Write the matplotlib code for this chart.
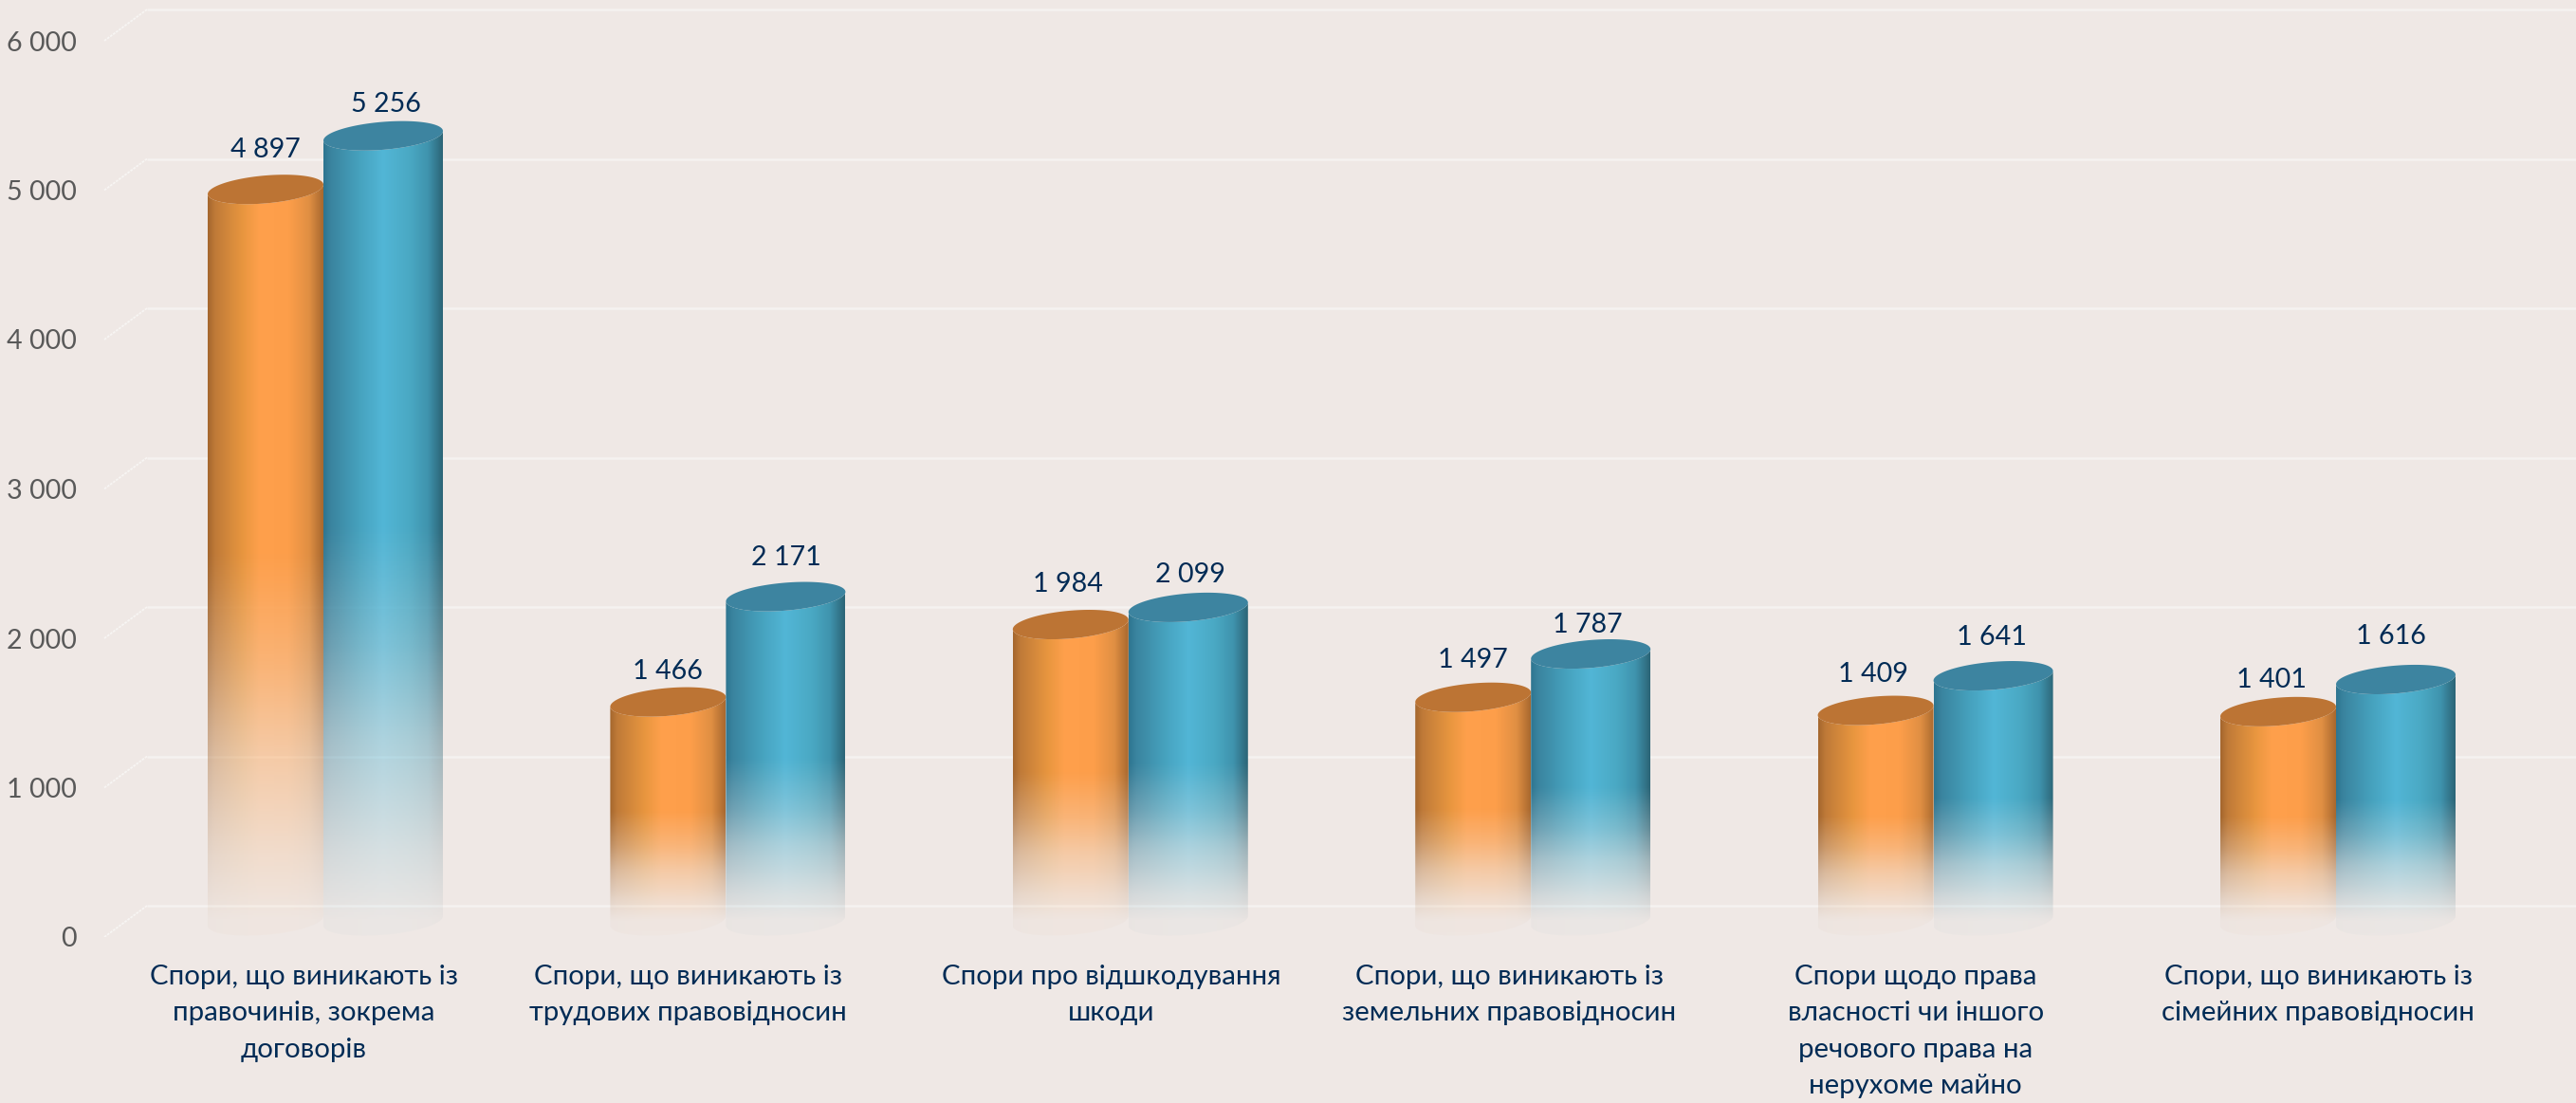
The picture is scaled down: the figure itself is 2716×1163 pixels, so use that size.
import numpy as np
import matplotlib
matplotlib.use("Agg")
import matplotlib.pyplot as plt
from matplotlib.path import Path
from matplotlib.patches import PathPatch
from matplotlib.colors import to_rgb

plt.rcParams['font.family'] = ['Lato', 'Open Sans', 'DejaVu Sans']

categories = [
    "Спори, що виникають із\nправочинів, зокрема\nдоговорів",
    "Спори, що виникають із\nтрудових правовідносин",
    "Спори про відшкодування\nшкоди",
    "Спори, що виникають із\nземельних правовідносин",
    "Спори щодо права\nвласності чи іншого\nречового права на\nнерухоме майно",
    "Спори, що виникають із\nсімейних правовідносин",
]
series_a = [4897, 1466, 1984, 1497, 1409, 1401]
series_b = [5256, 2171, 2099, 1787, 1641, 1616]
y_ticks = [0, 1000, 2000, 3000, 4000, 5000, 6000]

W, H = 2716, 1163
BG = "#EFE8E5"
TEXT = "#002B55"
TICK = "#595959"
PX_PER_CAT = 424.4
PX_PER_1000 = 157.5
X0_PX, Y0_PX = 320.0, 988.0
LEFT_PX = 82.0
ux = 1 / PX_PER_CAT          # data x per pixel
uy = 1000 / PX_PER_1000      # data y per pixel
BAR_LIFT = 17 * uy
BACK_LIFT = 33 * uy
JUNCTION = 21 * ux
W_A, W_B = 122 * ux, 126 * ux
PAD_A = [42, 32, 43, 39, 38, 33]
PAD_B = [33, 41, 34, 31, 41, 45]
SHIFT_A = [0, 0, -3, 0, -3, -7]
SHIFT_B = [3, 0, 2, -3, -2, -5]
LABEL_SHIFT = [0, -19, 3, -2, 2, 2]

fig = plt.figure(figsize=(W / 100, H / 100), dpi=100, facecolor=BG)
ax = fig.add_axes([LEFT_PX / W, (H - Y0_PX) / H, (W - LEFT_PX) / W, Y0_PX / H], facecolor=BG)
xlim = ((LEFT_PX - X0_PX) * ux, (W - X0_PX) * ux)
ylim = (0, Y0_PX * uy)

# gridlines at the back wall with their slanted floor links
for v in y_ticks:
    ax.plot([(155 - X0_PX) * ux, xlim[1]], [v + BACK_LIFT] * 2, color="#F5F2F0", lw=1.8, zorder=1,
            solid_capstyle="butt")
    ax.plot([(110 - X0_PX) * ux, (155 - X0_PX) * ux], [v, v + BACK_LIFT], color="#F7F5F3", lw=1.3,
            ls=(0, (1.5, 0.6)), zorder=1)


def shade(stops, n=128):
    pos = [s[0] for s in stops]
    cols = np.array([to_rgb(s[1]) for s in stops])
    xs = np.linspace(0, 1, n)
    return np.stack([np.interp(xs, pos, cols[:, i]) for i in range(3)], axis=1)


ORANGE = [(0, "#A5672E"), (0.06, "#BF7A38"), (0.3, "#E8963F"), (0.45, "#FFA04C"),
          (0.7, "#FD9E4A"), (0.88, "#E08F43"), (1, "#A9692F")]
BLUE = [(0, "#2E7590"), (0.06, "#3A849F"), (0.3, "#46A2BE"), (0.5, "#52B6D6"),
        (0.72, "#4AA9C4"), (0.88, "#3F93AD"), (1, "#2C6577")]
FADE_F = [-0.2, 0.0, 0.09, 0.23, 0.35, 0.47, 0.50, 1.0]
FADE_A = [0.02, 0.03, 0.16, 0.42, 0.72, 0.95, 1.0, 1.0]


def cylinder(xl, w, val, stops, top_col, z):
    a = w / 2
    xc = xl + a
    b_px, shear_px = 14.7, 5.0
    yt = val + BAR_LIFT
    yb = BAR_LIFT
    t = np.linspace(0, 2 * np.pi, 121)

    def rim(tt, y):
        return xc + a * np.cos(tt), y + (b_px * np.sin(tt) + shear_px * np.cos(tt)) * uy

    # body outline: lower half of top rim is covered by the cap, so use its outer edge
    tb = np.linspace(np.pi, 2 * np.pi, 60)
    bx, by = rim(tb, yb)
    tx, ty = rim(tb[::-1], yt)
    verts = np.r_[np.c_[bx, by], np.c_[tx, ty], [[bx[0], by[0]]]]
    clip = PathPatch(Path(verts), transform=ax.transData, fc="none", ec="none")
    ax.add_patch(clip)

    ny = 400
    ylo, yhi = yb - 20 * uy, yt + 20 * uy
    rows = np.linspace(yhi, ylo, ny)
    alpha = np.interp((rows - yb) / val, FADE_F, FADE_A)
    rgb = shade(stops)
    img = np.zeros((ny, rgb.shape[0], 4))
    img[..., :3] = rgb[None, :, :]
    img[..., 3] = alpha[:, None]
    im = ax.imshow(img, extent=(xl, xl + w, ylo, yhi), aspect="auto", zorder=z,
                   interpolation="bilinear")
    im.set_clip_path(clip)
    cx, cy = rim(t, yt)
    ax.fill(cx, cy, color=top_col, lw=0, zorder=z + 0.1)


for i, (va, vb) in enumerate(zip(series_a, series_b)):
    j = i + JUNCTION
    cylinder(j - W_A, W_A, va, ORANGE, "#BC7434", 3 + i)
    cylinder(j, W_B, vb, BLUE, "#3D84A0", 3.5 + i)
    for xc, v, pad in ((j - W_A / 2 + SHIFT_A[i] * ux, va, PAD_A[i]),
                       (j + W_B / 2 + SHIFT_B[i] * ux, vb, PAD_B[i])):
        ax.text(xc, v + BAR_LIFT + pad * uy, f"{v:,}".replace(",", " "), ha="center", va="center",
                color=TEXT, fontsize=20.6, zorder=20)

ax.set_xlim(*xlim)
ax.set_ylim(*ylim)
ax.set_xticks([i + LABEL_SHIFT[i] * ux for i in range(len(categories))])
ax.set_xticklabels(categories, fontsize=21.2, color=TEXT, linespacing=1.58)
ax.set_yticks(y_ticks)
ax.set_yticklabels([f"{v:,}".replace(",", " ") for v in y_ticks], fontsize=20.6, color=TICK)
ax.tick_params(axis="both", length=0)
ax.tick_params(axis="x", pad=21)
ax.tick_params(axis="y", pad=1)
for s in ax.spines.values():
    s.set_visible(False)

fig.savefig("out.png", dpi=100, facecolor=BG)
